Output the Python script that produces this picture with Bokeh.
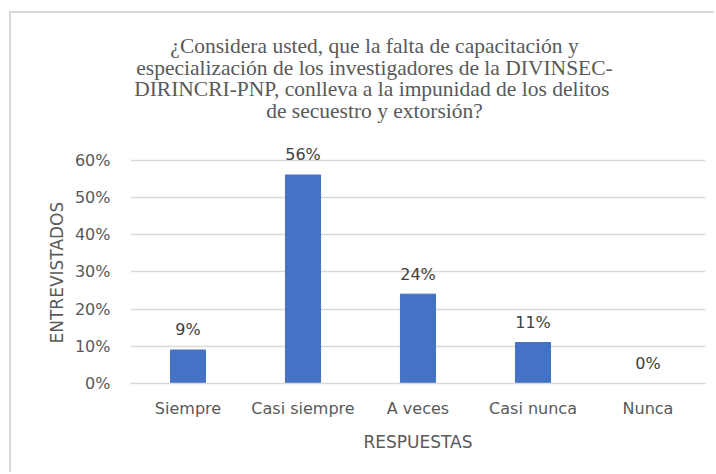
from bokeh.plotting import figure
from bokeh.models import ColumnDataSource, FixedTicker, NumeralTickFormatter, Label, Range1d, Title
from bokeh.core.properties import value
from bokeh.embed import file_html
from bokeh.resources import INLINE

categories = ["Siempre", "Casi siempre", "A veces", "Casi nunca", "Nunca"]
percentages = [0.09, 0.56, 0.24, 0.11, 0.0]
value_labels = ["9%", "56%", "24%", "11%", "0%"]
y_ticks = [0.0, 0.1, 0.2, 0.3, 0.4, 0.5, 0.6]
title_lines = ["¿Considera usted, que la falta de capacitación y",
               "especialización de los investigadores de la DIVINSEC-",
               "DIRINCRI-PNP,  conlleva a la impunidad de los delitos",
               "de secuestro y extorsión?"]
x_title = "RESPUESTAS"
y_title = "ENTREVISTADOS"

src = ColumnDataSource(dict(cat=categories, val=percentages, lab=value_labels))

FONT = "DejaVu Sans"
GREY = "#595959"

p = figure(x_range=categories, y_range=Range1d(0, 0.94), width=705, height=461,
           output_backend="svg", toolbar_location=None,
           min_border_left=119, min_border_right=11, min_border_top=20, min_border_bottom=91,
           styles={"margin-left": "9px", "margin-top": "11px",
                   "border-left": "2px solid #d9d9d9", "border-top": "2px solid #d9d9d9"})

p.vbar(x="cat", top="val", width=0.305, source=src, color="#4472C4")
p.text(x="cat", y="val", text="lab", source=src, y_offset=-20,
       text_align="center", text_baseline="middle",
       text_font=value(FONT), text_font_size="16px", text_color="#404040")

p.outline_line_color = None
p.xgrid.grid_line_color = None
p.ygrid.grid_line_color = "#d9d9d9"
p.ygrid.grid_line_width = 1.3

p.yaxis.ticker = FixedTicker(ticks=y_ticks)
p.yaxis.formatter = NumeralTickFormatter(format="0%")
p.yaxis.axis_line_color = None
p.yaxis.major_label_standoff = 20

p.xaxis.axis_line_color = "#d9d9d9"
p.xaxis.axis_line_width = 1.3
p.xaxis.major_label_standoff = 15
p.xaxis.axis_label = x_title
p.xaxis.axis_label_standoff = 11

for ax in (p.xaxis, p.yaxis):
    ax.major_tick_line_color = None
    ax.minor_tick_line_color = None
    ax.major_tick_out = 0
    ax.major_tick_in = 0
    ax.minor_tick_out = 0
    ax.minor_tick_in = 0
    ax.major_label_text_font = FONT
    ax.major_label_text_font_size = "16px"
    ax.major_label_text_color = GREY
    ax.axis_label_text_font = FONT
    ax.axis_label_text_font_size = "17px"
    ax.axis_label_text_color = GREY
    ax.axis_label_text_font_style = "normal"

baselines = [338, 316, 294.5, 273]
for line, yb in zip(title_lines, baselines):
    p.add_layout(Label(x=244, y=yb, x_units="screen", y_units="screen", text=line,
                       text_align="center", text_baseline="alphabetic",
                       text_font="Liberation Serif", text_font_size="21.5px",
                       text_color=GREY))

p.add_layout(Title(text=y_title, align="left", offset=40, standoff=10,
                   text_font=FONT, text_font_size="17px", text_color=GREY,
                   text_font_style="normal"), "left")

open("out.html", "w").write(file_html(p, INLINE))
